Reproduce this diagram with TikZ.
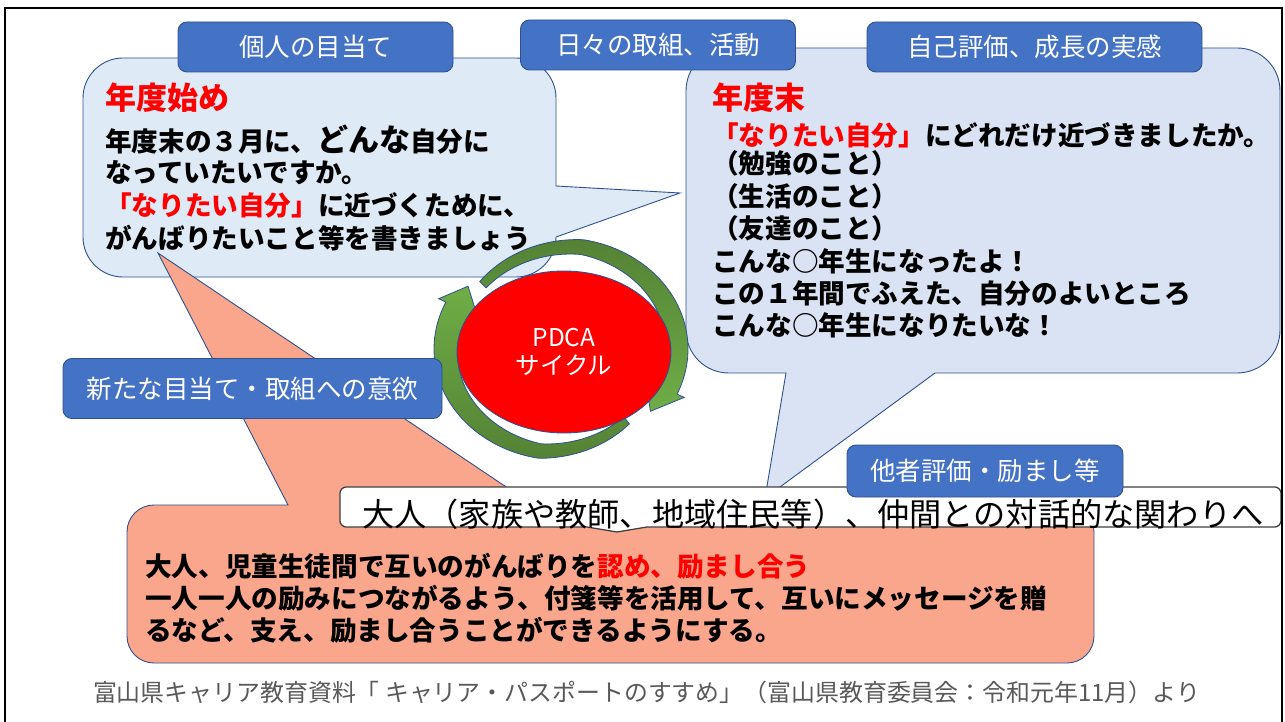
\documentclass[tikz,border=0pt]{standalone}
\usepackage{fontspec}
\setmainfont{Noto Sans CJK JP}
\usetikzlibrary{shapes.geometric}
\definecolor{tabblue}{HTML}{4472C4}
\definecolor{tabedge}{HTML}{2F528F}
\definecolor{lblue}{HTML}{DEEBF7}
\definecolor{rblue}{HTML}{DAE3F3}
\definecolor{salmonfill}{HTML}{F9A68C}
\definecolor{gdark}{HTML}{548235}
\definecolor{glight}{HTML}{70AD47}
\definecolor{footgray}{HTML}{595959}
\definecolor{boxedge}{HTML}{404040}
\def\PCx{561}\def\PCy{349}\def\PRx{127}\def\PRy{111}
\begin{document}
\begin{tikzpicture}[x=1pt,y=-1pt,
  tabbox/.style={fill=tabblue, draw=tabedge, line width=0.9pt, rounded corners=9pt, text=white,
    font=\fontsize{25.5}{30}\selectfont, inner sep=0pt},
  callout/.style={draw=tabedge, line width=0.9pt},
  txt/.style={anchor=west, inner sep=0pt, font=\bfseries\fontsize{26.6}{30}\selectfont},
  ttl/.style={anchor=west, inner sep=0pt, text=red, font=\bfseries\fontsize{31}{36}\selectfont},
  cyc/.style={draw=tabedge, line width=0.8pt},
]
\useasboundingbox (0,0) rectangle (1285,722);
\fill[white] (0,0) rectangle (1285,722);

% left callout
\path[callout, fill=lblue] (123,58) -- (516,58) .. controls (538,58) and (556,76) .. (556,98)
  -- (556,186) -- (680,193) -- (556,237)
  .. controls (556,259) and (538,277) .. (516,277) -- (123,277)
  .. controls (101,277) and (83,259) .. (83,237) -- (83,98)
  .. controls (83,76) and (101,58) .. (123,58) -- cycle;

% right callout
\path[callout, fill=rblue] (729,48) -- (1237,48) .. controls (1261,48) and (1280,67) .. (1280,91)
  -- (1280,330) .. controls (1280,354) and (1261,373) .. (1237,373)
  -- (935,373) -- (765,498) -- (786,373) -- (729,373)
  .. controls (705,373) and (686,354) .. (686,330) -- (686,91)
  .. controls (686,67) and (705,48) .. (729,48) -- cycle;

% salmon callout
\path[callout, fill=salmonfill] (154,505) -- (288,505) -- (158,253) -- (533,505) -- (1067,505)
  .. controls (1082,505) and (1094,517) .. (1094,532) -- (1094,636)
  .. controls (1094,651) and (1082,663) .. (1067,663) -- (154,663)
  .. controls (139,663) and (127,651) .. (127,636) -- (127,532)
  .. controls (127,517) and (139,505) .. (154,505) -- cycle;

% PDCA circular arrows
\path[cyc, top color=gdark, bottom color=glight]
  plot[domain=224:384, samples=80, variable=\t]
     ({\PCx+(\PRx-max(0,14*(280-\t)/56))*cos(\t)},{\PCy+(\PRy-max(0,14*(280-\t)/56))*sin(\t)})
  -- ({\PCx+(\PRx+8)*cos(384)},{\PCy+(\PRy+8)*sin(384)})
  -- ({\PCx+(\PRx-12)*cos(399)},{\PCy+(\PRy-12)*sin(399)})
  -- ({\PCx+(\PRx-34)*cos(384)},{\PCy+(\PRy-34)*sin(384)})
  -- plot[domain=384:224, samples=80, variable=\t]
     ({\PCx+(\PRx-max(0,14*(280-\t)/56)-9-17*(\t-224)/160)*cos(\t)},
      {\PCy+(\PRy-max(0,14*(280-\t)/56)-9-17*(\t-224)/160)*sin(\t)})
  -- cycle;
\path[cyc, top color=glight, bottom color=gdark]
  plot[domain=52:205, samples=80, variable=\t]
     ({\PCx+(\PRx-max(0,16*(100-\t)/48))*cos(\t)},{\PCy+(\PRy-max(0,16*(100-\t)/48))*sin(\t)})
  -- ({\PCx+(\PRx+8)*cos(205)},{\PCy+(\PRy+8)*sin(205)})
  -- ({\PCx+(\PRx-9)*cos(218)},{\PCy+(\PRy-9)*sin(218)})
  -- ({\PCx+(\PRx-35)*cos(205)},{\PCy+(\PRy-35)*sin(205)})
  -- plot[domain=205:52, samples=80, variable=\t]
     ({\PCx+(\PRx-max(0,16*(100-\t)/48)-9-18*(\t-52)/153)*cos(\t)},
      {\PCy+(\PRy-max(0,16*(100-\t)/48)-9-18*(\t-52)/153)*sin(\t)})
  -- cycle;

\node[ellipse, draw=tabedge, line width=0.9pt, fill=red, minimum width=214pt, minimum height=162pt,
  inner sep=0pt, text=white, align=center, font=\fontsize{24.5}{28}\selectfont] (pdca) at (564,352)
  {PDCA\\サイクル};

% tabs
\node[tabbox, minimum width=275pt, minimum height=50pt] (t1) at (315.5,47) {個人の目当て};
\node[tabbox, minimum width=275pt, minimum height=50pt] (t2) at (658,45) {日々の取組、活動};
\node[tabbox, minimum width=335pt, minimum height=50pt] (t3) at (1034.5,47) {自己評価、成長の実感};
\node[tabbox, minimum width=379pt, minimum height=60pt] (t4) at (252.5,388.5) {新たな目当て・取組への意欲};

% white box
\path[draw=boxedge, line width=1.3pt, fill=white] (346,487) -- (1275,487) .. controls (1278,487) and (1281,490) .. (1281,493)
  -- (1281,521) .. controls (1281,524) and (1278,527) .. (1275,527) -- (647,527) -- (617,532) -- (587,527)
  -- (346,527) .. controls (343,527) and (340,524) .. (340,521) -- (340,493)
  .. controls (340,490) and (343,487) .. (346,487) -- cycle;
\node[anchor=west, inner sep=0pt, font=\fontsize{32.2}{36}\selectfont] (wb) at (362,514)
  {大人（家族や教師、地域住民等）、仲間との対話的な関わりへ};

\node[tabbox, minimum width=276pt, minimum height=52pt] (t5) at (985,471) {他者評価・励まし等};

% left texts
\node[ttl] (ttlL) at (105,98) {年度始め};
\node[txt] (l1) at (105,140) {年度末の３月に、{\fontsize{31}{36}\selectfont どんな}自分に};
\node[txt] (l2) at (105,173) {なっていたいですか。};
\node[txt] (l3) at (105,205) {{\color{red}「なりたい自分」}に近づくために、};
\node[txt] (l4) at (105,238) {がんばりたいこと等を書きましょう};

% right texts
\node[ttl] (ttlR) at (712,98) {年度末};
\node[txt] (r1) at (712,135) {{\color{red}「なりたい自分」}にどれだけ近づきましたか。};
\node[txt] (r2) at (712,163) {（勉強のこと）};
\node[txt] (r3) at (712,196) {（生活のこと）};
\node[txt] (r4) at (712,228) {（友達のこと）};
\node[txt] (r5) at (712,261) {こんな○年生になったよ！};
\node[txt] (r6) at (712,293) {この１年間でふえた、自分のよいところ};
\node[txt] (r7) at (712,325) {こんな○年生になりたいな！};

% salmon texts
\node[txt] (s1) at (145,566) {大人、児童生徒間で互いのがんばりを{\color{red}認め、励まし合う}};
\node[txt] (s2) at (145,598) {一人一人の励みにつながるよう、付箋等を活用して、互いにメッセージを贈};
\node[txt] (s3) at (145,630) {るなど、支え、励まし合うことができるようにする。};

% footer
\node[inner sep=0pt, text=footgray, font=\fontsize{23.9}{28}\selectfont] (foot) at (646.5,692)
  {富山県キャリア教育資料「 キャリア・パスポートのすすめ」（富山県教育委員会：令和元年11月）より};

% frame
\draw[line width=2.5pt] (5,8) rectangle (1282,745);
\end{tikzpicture}
\end{document}
